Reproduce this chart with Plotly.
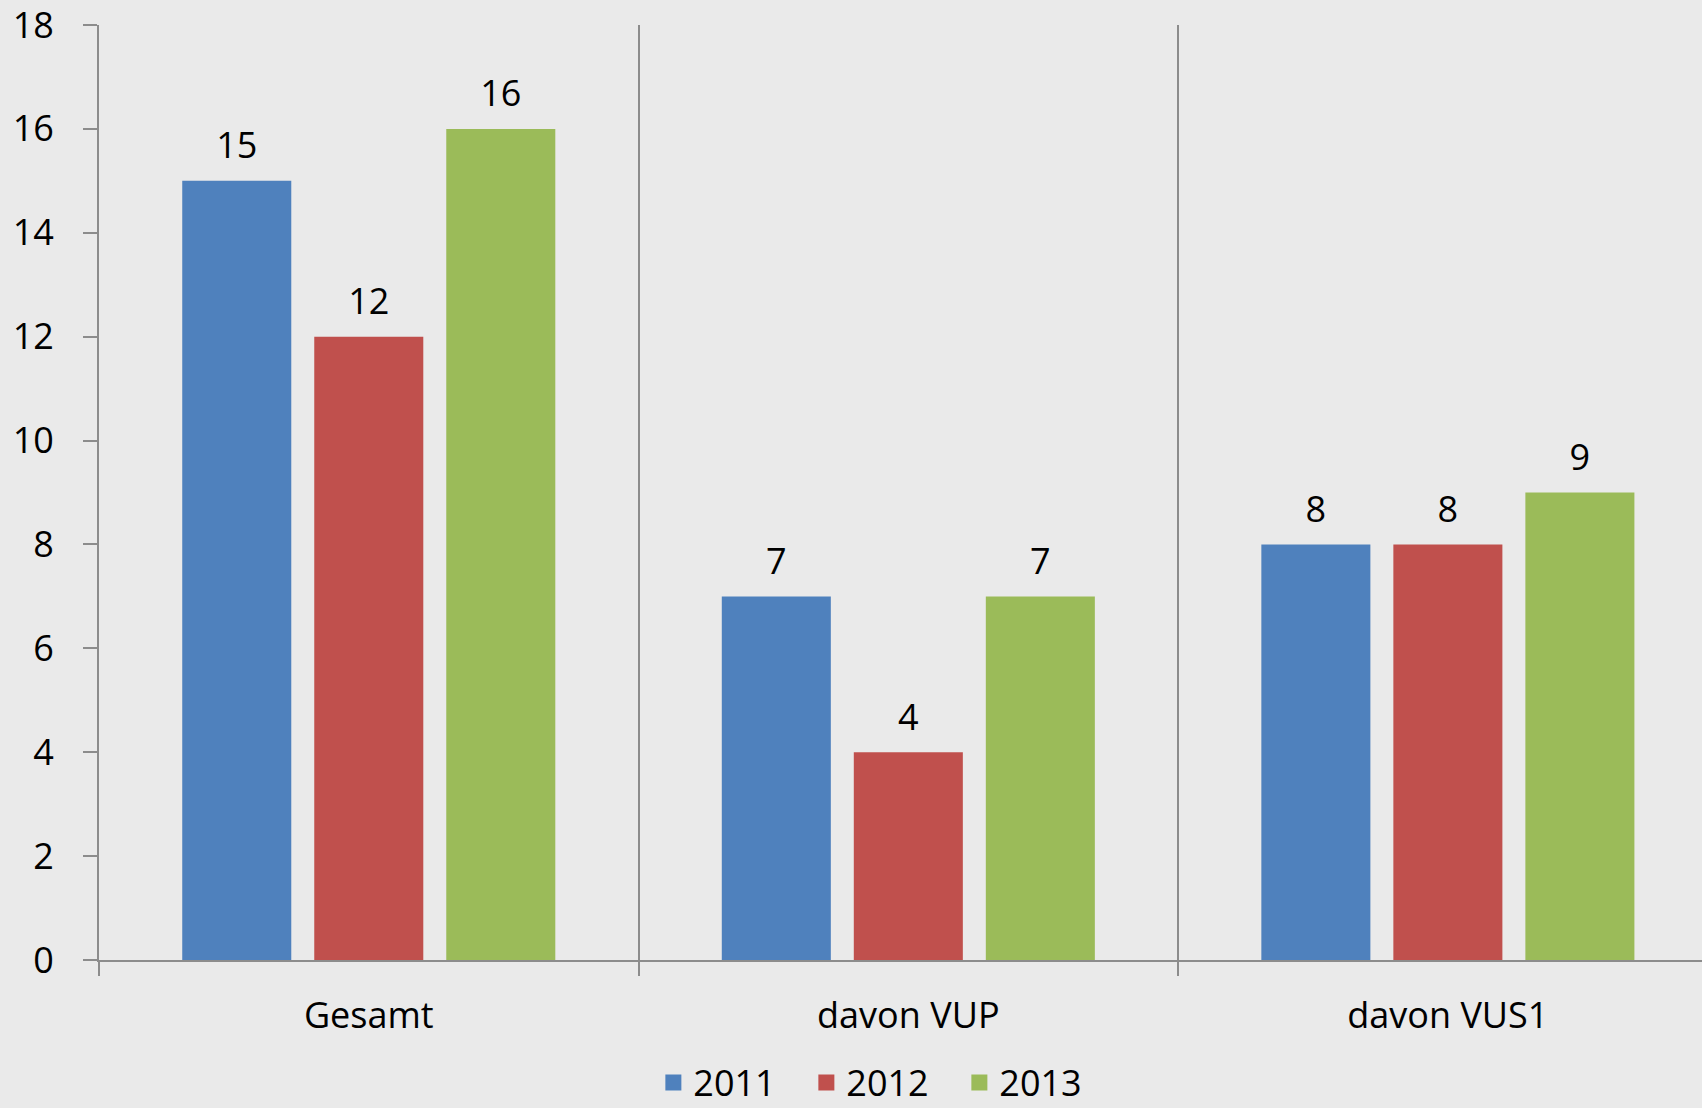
import plotly.graph_objects as go

categories = ["Gesamt", "davon VUP", "davon VUS1"]
years = ["2011", "2012", "2013"]
values_2011 = [15, 7, 8]
values_2012 = [12, 4, 8]
values_2013 = [16, 7, 9]
colors = ["#4F81BD", "#C0504D", "#9BBB59"]
y_ticks = [0, 2, 4, 6, 8, 10, 12, 14, 16, 18]

FONT = "Open Sans"
series = [values_2011, values_2012, values_2013]

fig = go.Figure()
for yr, vals, col in zip(years, series, colors):
    fig.add_trace(go.Bar(
        x=categories, y=vals, name=yr, offsetgroup=yr,
        marker=dict(color=col, line=dict(width=0)),
        showlegend=False, hoverinfo="x+y+name",
    ))
# value labels, grouped like the bars (invisible markers give the text offset)
for yr, vals in zip(years, series):
    fig.add_trace(go.Scatter(
        x=categories, y=vals, mode="markers+text", offsetgroup=yr,
        text=[str(v) for v in vals], textposition="top center",
        marker=dict(size=20, color="rgba(0,0,0,0)"),
        textfont=dict(family=FONT, size=36, color="black"),
        cliponaxis=False, showlegend=False, hoverinfo="skip",
    ))
# legend entries (on hidden helper axes)
for yr, col in zip(years, colors):
    fig.add_trace(go.Scatter(
        x=[None], y=[None], mode="markers", name=yr, xaxis="x2", yaxis="y2",
        marker=dict(symbol="square", size=16, color=col),
    ))

fig.update_layout(
    width=1702, height=1108,
    margin=dict(l=99, r=0, t=25, b=148),
    paper_bgcolor="#EAEAEA", plot_bgcolor="#EAEAEA",
    barmode="group", bargap=0.266, bargroupgap=0.174,
    scattermode="group", scattergap=0.266,
    font=dict(family=FONT, size=36, color="black"),
    showlegend=True,
    legend=dict(orientation="h", x=0.489, xanchor="center",
                yref="container", y=0.023, yanchor="middle",
                font=dict(family=FONT, size=36), bgcolor="rgba(0,0,0,0)",
                itemsizing="trace", entrywidth=108, entrywidthmode="pixels"),
    xaxis2=dict(visible=False, overlaying="x", range=[0, 1]),
    yaxis2=dict(visible=False, overlaying="y", range=[0, 1]),
)
fig.update_layout(xaxis=dict(
    type="category", range=[-0.5, 2.471], tickson="boundaries",
    showgrid=True, gridcolor="#8C8C8C", gridwidth=1.5,
    ticks="outside", ticklen=14, tickcolor="#8C8C8C", tickwidth=1.5,
    showline=True, linecolor="#8C8C8C", linewidth=2,
    tickfont=dict(family=FONT, size=36), ticklabelstandoff=23,
    zeroline=False,
))
fig.update_layout(yaxis=dict(
    range=[0, 18], tickvals=y_ticks, showgrid=False, zeroline=False,
    ticks="outside", ticklen=14, tickcolor="#8C8C8C", tickwidth=1.5,
    showline=True, linecolor="#8C8C8C", linewidth=2,
    tickfont=dict(family=FONT, size=36), ticklabelstandoff=22,
    ticklabeloverflow="allow",
))

fig.write_html("out.html", config={"displayModeBar": False},
               post_script="document.body.style.margin='0';")
